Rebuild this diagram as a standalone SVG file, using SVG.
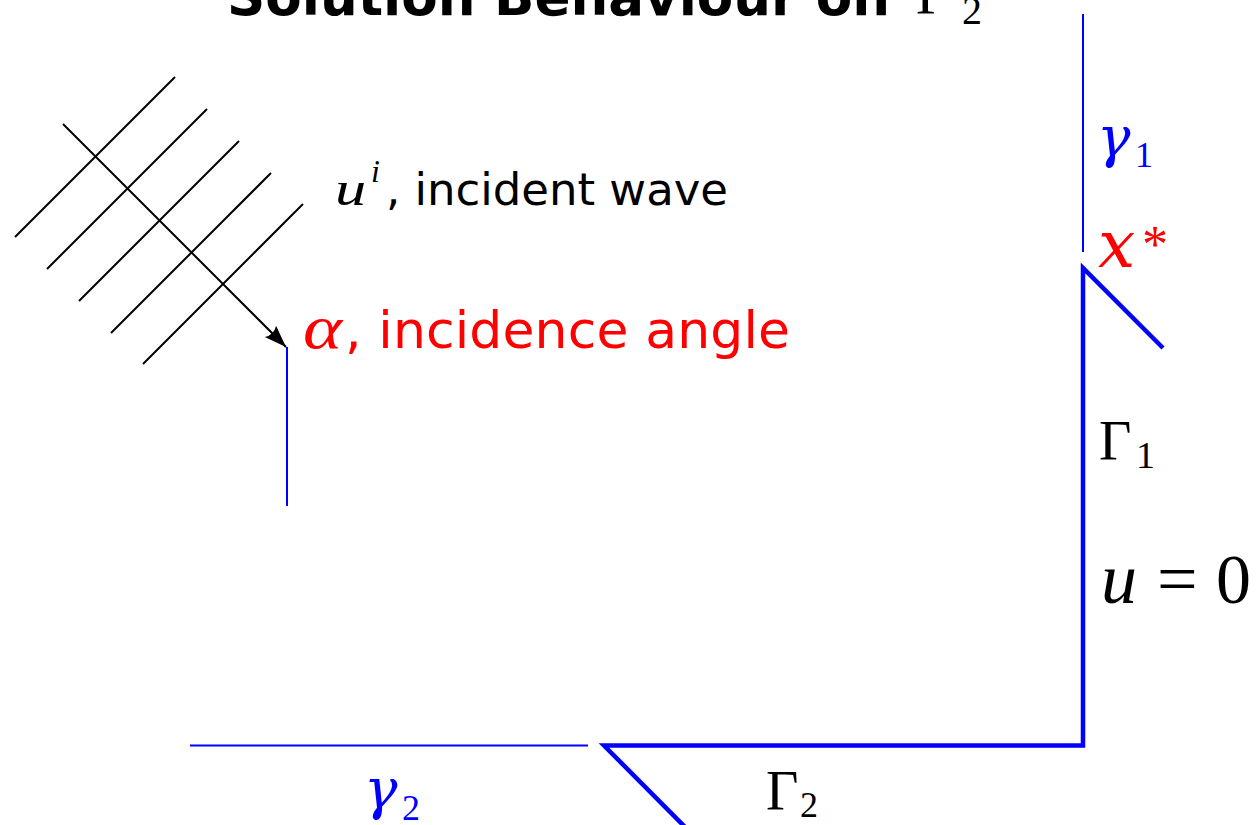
<svg xmlns="http://www.w3.org/2000/svg" width="1258" height="825" viewBox="0 0 1258 825">
<style>
.sans{font-family:"DejaVu Sans","Liberation Sans",sans-serif}
.math{font-family:"Liberation Serif","DejaVu Serif",serif;font-style:italic}
.dmath{font-family:"DejaVu Serif","Liberation Serif",serif;font-style:italic}
.rm{font-family:"Liberation Serif","DejaVu Serif",serif}
.blue{fill:#0000ff}
.red{fill:#ff0000}
.blk{fill:#000}
.hatch{stroke:#000;stroke-width:2;fill:none}
.thin{stroke:#0000ff;stroke-width:2;fill:none}
.thick{stroke:#0000ff;stroke-width:4.5;fill:none;stroke-linejoin:miter}
</style>
<defs>
<marker id="arr" markerUnits="userSpaceOnUse" markerWidth="26" markerHeight="20" refX="22" refY="8" orient="auto" viewBox="0 0 26 20">
<path d="M22,8 L0,0 Q5,8 0,16 Z" fill="#000"/>
</marker>
</defs>
<rect width="1258" height="825" fill="#fff"/>
<g id="title">
<text class="sans blk" x="227" y="15" font-size="53" font-weight="bold" textLength="663" lengthAdjust="spacingAndGlyphs">Solution Behaviour on</text>
<text class="rm blk" x="916" y="14" font-size="58">Γ</text>
<text class="rm blk" x="962" y="24" font-size="40">2</text>
</g>
<g id="connectors">
<g id="wavefronts">
<line class="hatch" x1="15" y1="237" x2="175" y2="77"/>
<line class="hatch" x1="47" y1="269" x2="207" y2="109"/>
<line class="hatch" x1="79" y1="301" x2="239" y2="141"/>
<line class="hatch" x1="111" y1="333" x2="271" y2="173"/>
<line class="hatch" x1="143" y1="364" x2="303" y2="204"/>
</g>
<line class="hatch" x1="63" y1="124" x2="286" y2="347" marker-end="url(#arr)"/>
<line class="thin" x1="287" y1="347" x2="287" y2="506"/>
<line class="thin" x1="1083" y1="14" x2="1083" y2="252"/>
<line class="thin" x1="190" y1="745.5" x2="588" y2="745.5"/>
<polyline class="thick" points="1163,348 1083,268 1083,745.5 604,745.5 690,832"/>
</g>
<g id="incident-wave">
<text class="math blk" transform="translate(335,205) scale(1.3,1)" font-size="48">u</text>
<text class="math blk" x="371" y="182" font-size="32">i</text>
<text class="sans blk" x="386" y="205" font-size="45" textLength="342" lengthAdjust="spacing">, incident wave</text>
</g>
<g id="incidence-angle">
<text class="math red" transform="translate(303,348) scale(1.2,1)" font-size="62">α</text>
<text class="sans red" x="345" y="348" font-size="52" textLength="445" lengthAdjust="spacing">, incidence angle</text>
</g>
<g id="gamma1">
<text class="dmath blue" x="1097" y="156" font-size="56">γ</text>
<text class="rm blue" x="1135" y="167" font-size="36">1</text>
</g>
<g id="xstar">
<text class="dmath red" x="1098" y="267" font-size="66">x</text>
<text class="rm red" x="1142" y="262" font-size="52">*</text>
</g>
<g id="Gamma1">
<text class="rm blk" x="1099" y="460" font-size="56">Γ</text>
<text class="rm blk" x="1136" y="468" font-size="38">1</text>
</g>
<g id="u-eq-0">
<text class="math blk" x="1101" y="603" font-size="72">u</text>
<text class="rm blk" x="1157" y="603" font-size="72">=</text>
<text class="rm blk" x="1216" y="603" font-size="70">0</text>
</g>
<g id="gamma2">
<text class="dmath blue" x="364" y="808" font-size="56">γ</text>
<text class="rm blue" x="402" y="820" font-size="36">2</text>
</g>
<g id="Gamma2">
<text class="rm blk" x="766" y="810" font-size="56">Γ</text>
<text class="rm blk" x="800" y="817" font-size="36">2</text>
</g>
</svg>
